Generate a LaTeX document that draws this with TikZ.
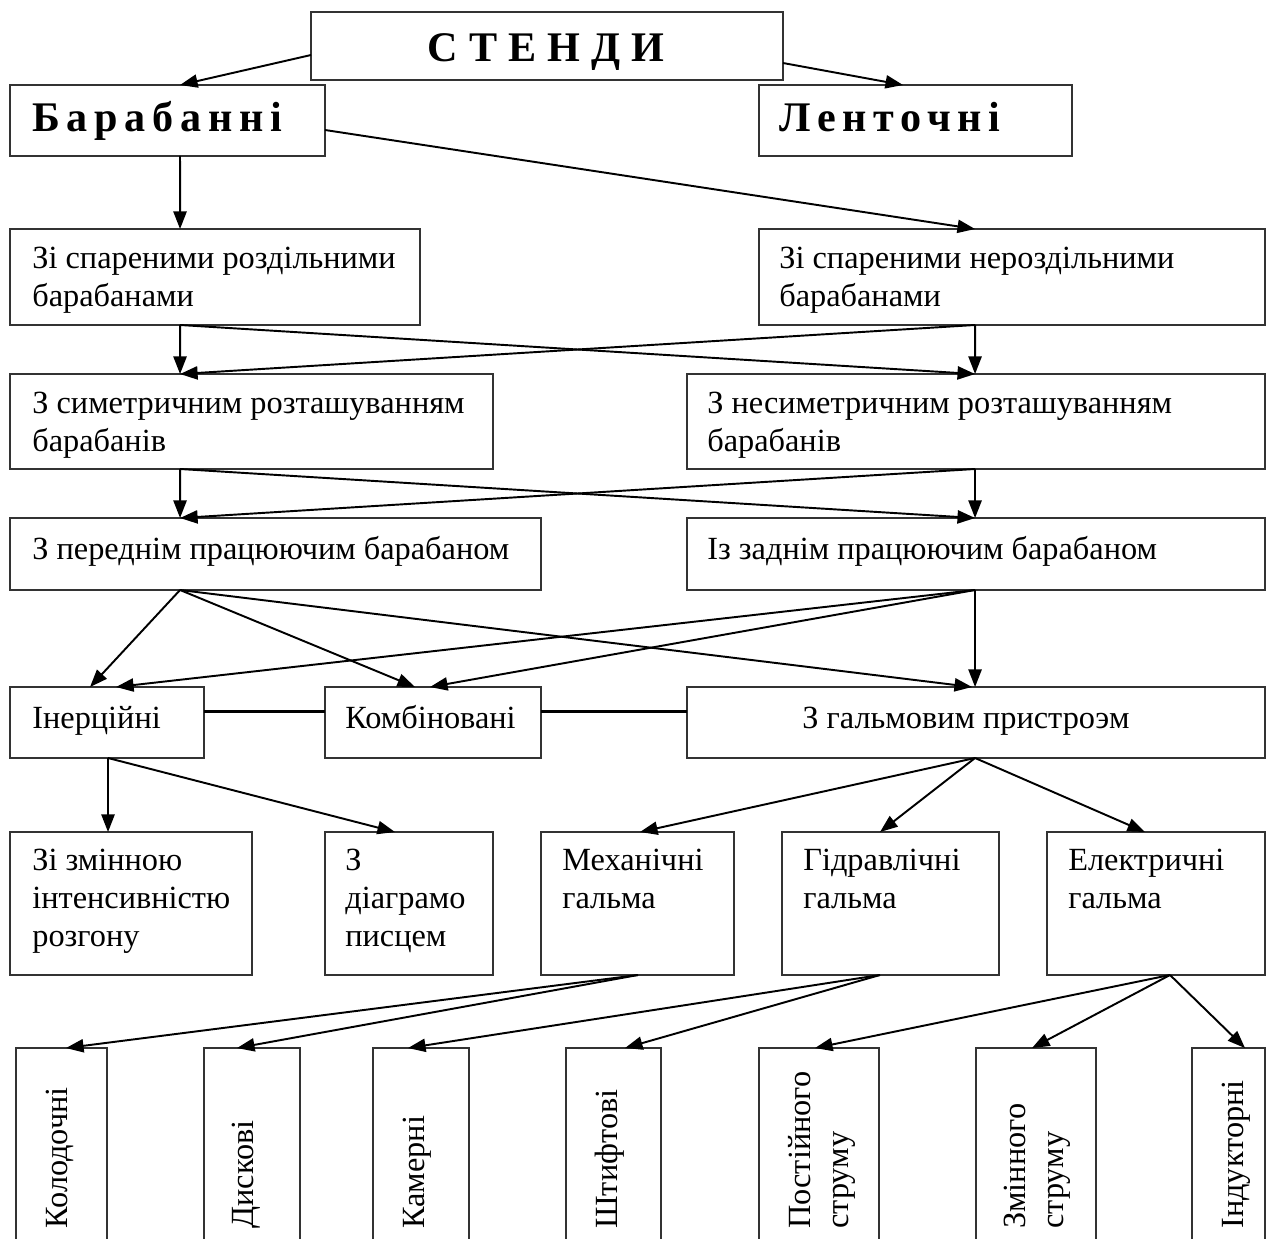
\documentclass[tikz,border=0pt]{standalone}
\usepackage{fontspec}
\setmainfont{Liberation Serif}
\usetikzlibrary{arrows.meta,calc}

\begin{document}
\begin{tikzpicture}[x=0.02cm,y=-0.02cm,
	box/.style={draw=black!80,line width=0.7pt,inner sep=0,outer sep=0},
	txt/.style={inner sep=0,anchor=north west,align=left,font=\fontsize{18.4}{21.6}\selectfont,execute at begin node=\strut},
	vtxt/.style={inner sep=0,anchor=north west,align=left,font=\fontsize{18.4}{21.6}\selectfont,rotate=90},
	head/.style={inner sep=0,anchor=base west,font=\fontsize{24}{28}\selectfont\bfseries\addfontfeature{LetterSpace=16}},
	arr/.style={line width=1.1pt,-{Triangle[length=10pt,width=7.5pt]}},
	link/.style={line width=1.2pt}]
		\useasboundingbox (0,0) rectangle (1275,1238);
		\clip (0,0) rectangle (1275,1238);
		% boxes
		\node[box,minimum width=9.44cm,minimum height=1.36cm] (stendy) at (547,46) {};
		\node[box,minimum width=6.3cm,minimum height=1.42cm] (baraban) at (167.5,120.5) {};
		\node[box,minimum width=6.26cm,minimum height=1.42cm] (lent) at (915.5,120.5) {};
		\node[box,minimum width=8.2cm,minimum height=1.92cm] (rozd) at (215,277) {};
		\node[box,minimum width=10.12cm,minimum height=1.92cm] (nerozd) at (1012,277) {};
		\node[box,minimum width=9.66cm,minimum height=1.9cm] (sym) at (251.5,421.5) {};
		\node[box,minimum width=11.56cm,minimum height=1.9cm] (nesym) at (976,421.5) {};
		\node[box,minimum width=10.62cm,minimum height=1.44cm] (pered) at (275.5,554) {};
		\node[box,minimum width=11.56cm,minimum height=1.44cm] (zadn) at (976,554) {};
		\node[box,minimum width=3.88cm,minimum height=1.42cm] (inerc) at (107,722.5) {};
		\node[box,minimum width=4.32cm,minimum height=1.42cm] (komb) at (433,722.5) {};
		\node[box,minimum width=11.56cm,minimum height=1.42cm] (galm) at (976,722.5) {};
		\node[box,minimum width=4.84cm,minimum height=2.86cm] (zmin) at (131,903.5) {};
		\node[box,minimum width=3.36cm,minimum height=2.86cm] (diagr) at (409,903.5) {};
		\node[box,minimum width=3.86cm,minimum height=2.86cm] (mech) at (637.5,903.5) {};
		\node[box,minimum width=4.34cm,minimum height=2.86cm] (gidr) at (890.5,903.5) {};
		\node[box,minimum width=4.36cm,minimum height=2.86cm] (elek) at (1156,903.5) {};
		\node[box,minimum width=1.82cm,minimum height=4.24cm] (kolod) at (61.5,1154) {};
		\node[box,minimum width=1.92cm,minimum height=4.24cm] (disk) at (252,1154) {};
		\node[box,minimum width=1.92cm,minimum height=4.24cm] (kamer) at (421,1154) {};
		\node[box,minimum width=1.9cm,minimum height=4.24cm] (shtyf) at (613.5,1154) {};
		\node[box,minimum width=2.4cm,minimum height=4.24cm] (post) at (819,1154) {};
		\node[box,minimum width=2.4cm,minimum height=4.24cm] (zminstr) at (1036,1154) {};
		\node[box,minimum width=1.46cm,minimum height=4.24cm] (induk) at (1228.5,1154) {};
		% texts
		\node[head,anchor=base,font=\fontsize{24}{28}\selectfont\bfseries\addfontfeature{LetterSpace=26}] (t-stendy) at (546,61) {СТЕНДИ};
		\node[head] (t-baraban) at (32,131) {Барабанні};
		\node[head] (t-lent) at (779,131) {Ленточні};
		\node[txt] (t-rozd) at (32,247) {Зі спареними роздільними\\барабанами};
		\node[txt] (t-nerozd) at (779,247) {Зі спареними нероздільними\\барабанами};
		\node[txt] (t-sym) at (32,392) {З симетричним розташуванням\\барабанів};
		\node[txt] (t-nesym) at (707,392) {З несиметричним розташуванням\\барабанів};
		\node[txt] (t-pered) at (32,533) {З переднім працюючим барабаном};
		\node[txt] (t-zadn) at (707,533) {Із заднім працюючим барабаном};
		\node[txt] (t-inerc) at (32,702) {Інерційні};
		\node[txt] (t-komb) at (345,702) {Комбіновані};
		\node[txt] (t-galm) at (802,702) {З гальмовим пристроэм};
		\node[txt] (t-zmin) at (32,849) {Зі змінною\\інтенсивністю\\розгону};
		\node[txt] (t-diagr) at (345,849) {З\\діаграмо\\писцем};
		\node[txt] (t-mech) at (562,849) {Механічні\\гальма};
		\node[txt] (t-gidr) at (803,849) {Гідравлічні\\гальма};
		\node[txt] (t-elek) at (1068,849) {Електричні\\гальма};
		\node[vtxt] (t-kolod) at (46,1229) {Колодочні};
		\node[vtxt] (t-disk) at (232,1229) {Дискові};
		\node[vtxt] (t-kamer) at (403,1229) {Камерні};
		\node[vtxt] (t-shtyf) at (595,1229) {Штифтові};
		\node[vtxt] (t-post) at (788,1229) {Постійного\\струму};
		\node[vtxt] (t-zminstr) at (1004,1229) {Змінного\\струму};
		\node[vtxt] (t-induk) at (1222,1229) {Індукторні};
		% arrows
		\draw[arr] ($(stendy.south west)+(0,-25)$) -- ($(baraban.north west)+(170,0)$);
		\draw[arr] ($(stendy.south east)+(0,-17)$) -- ($(lent.north west)+(144,0)$);
		\draw[arr] ($(baraban.south west)+(170,0)$) -- ($(rozd.north west)+(170,0)$);
		\draw[arr] ($(baraban.south east)+(0,-26)$) -- ($(nerozd.north west)+(216,0)$);
		\draw[arr] ($(rozd.south west)+(170,0)$) -- ($(sym.north west)+(170,0)$);
		\draw[arr] ($(rozd.south west)+(170,0)$) -- ($(nesym.north west)+(288,0)$);
		\draw[arr] ($(nerozd.south west)+(216,0)$) -- ($(nesym.north west)+(288,0)$);
		\draw[arr] ($(nerozd.south west)+(216,0)$) -- ($(sym.north west)+(170,0)$);
		\draw[arr] ($(sym.south west)+(170,0)$) -- ($(pered.north west)+(170,0)$);
		\draw[arr] ($(sym.south west)+(170,0)$) -- ($(zadn.north west)+(288,0)$);
		\draw[arr] ($(nesym.south west)+(288,0)$) -- ($(zadn.north west)+(288,0)$);
		\draw[arr] ($(nesym.south west)+(288,0)$) -- ($(pered.north west)+(170,0)$);
		\draw[arr] ($(pered.south west)+(170,0)$) -- ($(inerc.north west)+(80,0)$);
		\draw[arr] ($(pered.south west)+(170,0)$) -- ($(komb.north west)+(90,0)$);
		\draw[arr] ($(pered.south west)+(170,0)$) -- ($(galm.north west)+(285,0)$);
		\draw[arr] ($(zadn.south west)+(288,0)$) -- ($(galm.north west)+(288,0)$);
		\draw[arr] ($(zadn.south west)+(288,0)$) -- ($(komb.north west)+(105,0)$);
		\draw[arr] ($(zadn.south west)+(288,0)$) -- ($(inerc.north west)+(106,0)$);
		\draw[link] ($(inerc.east)+(0,-11)$) -- ($(komb.west)+(0,-11)$);
		\draw[link] ($(komb.east)+(0,-11)$) -- ($(galm.west)+(0,-11)$);
		\draw[arr] ($(inerc.south west)+(98,0)$) -- ($(zmin.north west)+(98,0)$);
		\draw[arr] ($(inerc.south west)+(98,0)$) -- ($(diagr.north west)+(70,0)$);
		\draw[arr] ($(galm.south west)+(288,0)$) -- ($(mech.north west)+(99,0)$);
		\draw[arr] ($(galm.south west)+(288,0)$) -- ($(gidr.north west)+(98,0)$);
		\draw[arr] ($(galm.south west)+(288,0)$) -- ($(elek.north west)+(98,0)$);
		\draw[arr] ($(mech.south west)+(97,0)$) -- ($(kolod.north west)+(50,0)$);
		\draw[arr] ($(mech.south west)+(97,0)$) -- ($(disk.north west)+(33,0)$);
		\draw[arr] ($(gidr.south west)+(98,0)$) -- ($(kamer.north west)+(35,0)$);
		\draw[arr] ($(gidr.south west)+(98,0)$) -- ($(shtyf.north west)+(59,0)$);
		\draw[arr] ($(elek.south west)+(123,0)$) -- ($(post.north west)+(56,0)$);
		\draw[arr] ($(elek.south west)+(123,0)$) -- ($(zminstr.north west)+(56,0)$);
		\draw[arr] ($(elek.south west)+(123,0)$) -- ($(induk.north west)+(53,0)$);
	\end{tikzpicture}
\end{document}
